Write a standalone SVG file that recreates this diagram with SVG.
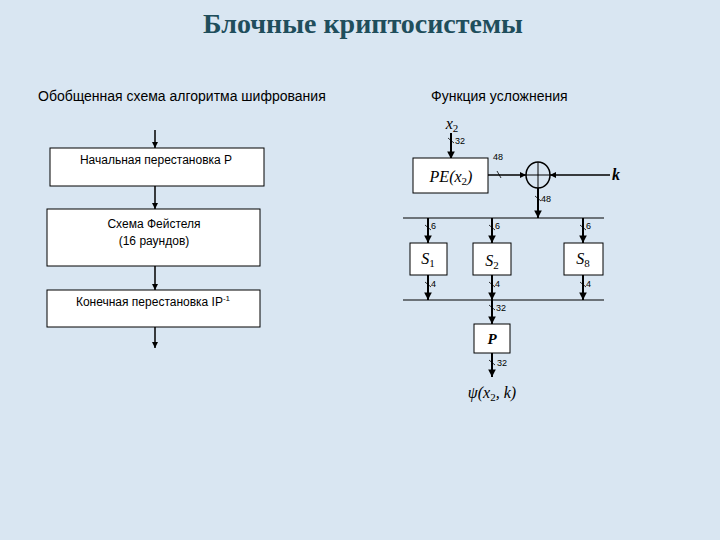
<svg xmlns="http://www.w3.org/2000/svg" width="720" height="540" viewBox="0 0 720 540">
<defs>
<marker id="ah" viewBox="0 0 10 10" refX="10" refY="5" markerWidth="4" markerHeight="4" orient="auto" markerUnits="strokeWidth"><path d="M0,0 L10,5 L0,10 z" fill="#000"/></marker>
<marker id="ah2" viewBox="0 0 10 10" refX="10" refY="5" markerWidth="3.8" markerHeight="3.8" orient="auto" markerUnits="strokeWidth"><path d="M0,0 L10,5 L0,10 z" fill="#000"/></marker>
<style>
.box{fill:#fff;stroke:#000;stroke-width:1}
.t{font-family:"Liberation Sans",Arial,sans-serif;font-size:12px;fill:#000;text-anchor:middle}
.h{font-family:"Liberation Sans",Arial,sans-serif;font-size:14px;fill:#000}
.m{font-family:"Liberation Serif","Times New Roman",serif;font-style:italic;font-size:16px;fill:#000;text-anchor:middle}
.sub{font-style:normal;font-size:11px}
.n{font-family:"Liberation Sans",Arial,sans-serif;font-size:9px;fill:#000}
.ar{stroke:#000;stroke-width:1.5;fill:none;marker-end:url(#ah)}
.ar2{stroke:#000;stroke-width:2;fill:none;marker-end:url(#ah2)}
.ln{stroke:#000;stroke-width:1;fill:none}
.sl{stroke:#000;stroke-width:0.8;fill:none}
</style>
</defs>
<rect width="720" height="540" fill="#d9e6f2"/>
<text x="363" y="33" text-anchor="middle" font-family="Liberation Serif,'Times New Roman',serif" font-weight="bold" font-size="28" fill="#1f4e5c">Блочные криптосистемы</text>
<text class="h" x="38" y="101">Обобщенная схема алгоритма шифрования</text>
<text class="h" x="431" y="101">Функция усложнения</text>

<g id="connectors">
<line class="ar" x1="155" y1="130" x2="155" y2="148"/>
<line class="ar" x1="155" y1="186" x2="155" y2="209"/>
<line class="ar" x1="155" y1="266" x2="155" y2="290"/>
<line class="ar" x1="155" y1="327" x2="155" y2="348"/>

<line class="ar2" x1="451" y1="133" x2="451" y2="159"/>
<line class="sl" x1="448" y1="138" x2="454" y2="143"/>
<line class="ar" x1="488" y1="175" x2="526" y2="175"/>
<line class="sl" x1="497" y1="171" x2="501" y2="178"/>
<line class="ar" x1="610" y1="175" x2="550" y2="175"/>
<line class="ar2" x1="538" y1="188" x2="538" y2="218"/>
<line class="sl" x1="535" y1="196" x2="541" y2="201"/>
<line class="ln" x1="403" y1="218" x2="604" y2="218"/>

<line class="ar2" x1="428" y1="218" x2="428" y2="243"/>
<line class="sl" x1="425" y1="225" x2="431" y2="230"/>
<line class="ar2" x1="492" y1="218" x2="492" y2="243"/>
<line class="sl" x1="489" y1="225" x2="495" y2="230"/>
<line class="ar2" x1="583" y1="218" x2="583" y2="243"/>
<line class="sl" x1="580" y1="225" x2="586" y2="230"/>

<line class="ar2" x1="428" y1="275" x2="428" y2="300"/>
<line class="sl" x1="425" y1="282" x2="431" y2="287"/>
<line class="ar2" x1="492" y1="275" x2="492" y2="300"/>
<line class="sl" x1="489" y1="282" x2="495" y2="287"/>
<line class="ar2" x1="583" y1="275" x2="583" y2="300"/>
<line class="sl" x1="580" y1="282" x2="586" y2="287"/>
<line class="ln" x1="403" y1="300" x2="604" y2="300"/>

<line class="ar2" x1="492" y1="300" x2="492" y2="324"/>
<line class="sl" x1="489" y1="305" x2="495" y2="310"/>
<line class="ar2" x1="492" y1="353" x2="492" y2="377"/>
<line class="sl" x1="489" y1="360" x2="495" y2="365"/>
</g>

<g id="n_ip">
<rect class="box" x="50" y="148" width="214" height="38"/>
<text class="t" x="156" y="164">Начальная перестановка P</text>
</g>
<g id="n_feistel">
<rect class="box" x="47" y="209" width="213" height="57"/>
<text class="t" x="154" y="228">Схема Фейстеля</text>
<text class="t" x="154" y="245">(16 раундов)</text>
</g>
<g id="n_ipinv">
<rect class="box" x="47" y="290" width="213" height="37"/>
<text class="t" x="153" y="306">Конечная перестановка IP<tspan font-size="8" dy="-5">-1</tspan></text>
</g>

<g id="n_x2"><text class="m" x="452" y="129">x<tspan class="sub" dy="3">2</tspan></text><text class="n" x="455" y="144">32</text></g>
<g id="n_pe">
<rect class="box" x="413" y="158" width="75" height="35"/>
<text class="m" x="451" y="182">PE(x<tspan class="sub" dy="3">2</tspan><tspan dy="-3">)</tspan></text>
<text class="n" x="493" y="160">48</text>
</g>
<g id="n_xor">
<ellipse cx="538" cy="175" rx="12" ry="13" fill="none" stroke="#000" stroke-width="1.5"/>
<line class="ln" x1="526" y1="175" x2="550" y2="175"/>
<line class="ln" x1="538" y1="162" x2="538" y2="188"/>
<text class="n" x="541" y="202">48</text>
</g>
<g id="n_k"><text x="612" y="180" font-family="Liberation Serif,serif" font-style="italic" font-weight="bold" font-size="16">k</text></g>
<g id="n_s1">
<rect class="box" x="410" y="243" width="37" height="32"/>
<text class="m" x="428" y="264">S<tspan class="sub" dy="3">1</tspan></text>
<text class="n" x="431" y="229">6</text><text class="n" x="431" y="287">4</text>
</g>
<g id="n_s2">
<rect class="box" x="473" y="243" width="38" height="32"/>
<text class="m" x="492" y="266">S<tspan class="sub" dy="3">2</tspan></text>
<text class="n" x="495" y="229">6</text><text class="n" x="495" y="287">4</text>
</g>
<g id="n_s8">
<rect class="box" x="564" y="243" width="39" height="32"/>
<text class="m" x="583" y="264">S<tspan class="sub" dy="3">8</tspan></text>
<text class="n" x="586" y="229">6</text><text class="n" x="586" y="287">4</text>
</g>
<g id="n_p">
<rect class="box" x="474" y="324" width="36" height="29"/>
<text x="492" y="344" text-anchor="middle" font-family="Liberation Serif,serif" font-style="italic" font-weight="bold" font-size="15">P</text>
<text class="n" x="496" y="311">32</text><text class="n" x="497" y="366">32</text>
</g>
<g id="n_psi"><text class="m" x="492" y="398">ψ(x<tspan class="sub" dy="3">2</tspan><tspan dy="-3">, k)</tspan></text></g>
</svg>
